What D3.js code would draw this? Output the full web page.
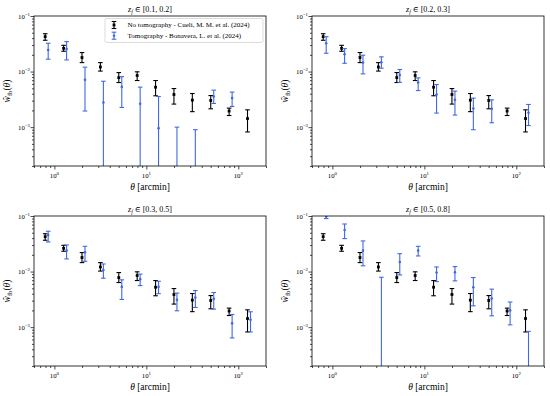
<!DOCTYPE html>
<html>
<head>
<meta charset="utf-8">
<script src="https://cdn.jsdelivr.net/npm/d3@7"></script>
<style>
  html, body { margin: 0; padding: 0; background: #fff; }
  svg { display: block; }
  text { font-family: "Liberation Serif", "DejaVu Serif", serif; fill: #000; }
</style>
</head>
<body>
<div id="chart"></div>
<script>
// ---------------- DATA ----------------
const panelTitles = ["[0.1, 0.2]", "[0.2, 0.3]", "[0.3, 0.5]", "[0.5, 0.8]"];
const legendLabels = ["No tomography - Cueli, M. M. et al. (2024)", "Tomography - Bonavera, L. et al. (2024)"];

const xTickValues = [1, 10, 100];
const xTickExponents = ["0", "1", "2"];
const yTickValues = [1e-3, 1e-2, 1e-1];
const yTickExponents = ["\u22123", "\u22122", "\u22121"];

// No tomography (same in all panels)
const thetaNoTomo = [0.794, 1.259, 1.995, 3.162, 5.012, 7.943, 12.59, 19.95, 31.62, 50.12, 79.43, 125.9];
const wNoTomo   = [0.0425, 0.0262, 0.0179, 0.0121, 0.0078, 0.0085, 0.00523, 0.00387, 0.00306, 0.00302, 0.00195, 0.00143];
const wNoTomoLo = [0.0366, 0.0232, 0.0145, 0.0102, 0.00635, 0.0069, 0.00367, 0.0026, 0.0019, 0.00214, 0.00162, 0.00082];
const wNoTomoHi = [0.048, 0.0297, 0.022, 0.0145, 0.0096, 0.0099, 0.0069, 0.00495, 0.00403, 0.0037, 0.0022, 0.00205];

// Tomography (per panel)
const thetaTomo = [0.856, 1.357, 2.151, 3.409, 5.403, 8.563, 13.57, 21.51, 34.09, 54.03, 85.63, 135.7];

const wTomo1   = [0.0245, 0.0256, 0.0071, 0.00278, 0.0053, 0.00263, 0.00096, -0.0004, -0.0005, 0.00356, 0.00333, null];
const wTomo1Lo = [0.0167, 0.0162, 0.00195, -0.0011, 0.00226, -0.0001, -0.0016, -0.0018, -0.0023, 0.00267, 0.00236, null];
const wTomo1Hi = [0.0323, 0.0346, 0.012, 0.0067, 0.0081, 0.00525, 0.00356, 0.001, 0.0009, 0.00463, 0.00427, null];

const wTomo2   = [0.0323, 0.0205, 0.0145, 0.0147, 0.0087, 0.00636, 0.00387, 0.0031, 0.00217, 0.00214, null, 0.00182];
const wTomo2Lo = [0.0214, 0.0141, 0.0091, 0.0115, 0.0064, 0.00456, 0.00179, 0.00165, 0.0009, 0.0012, null, 0.00107];
const wTomo2Hi = [0.0425, 0.0259, 0.0197, 0.0184, 0.0109, 0.0077, 0.00585, 0.00445, 0.00333, 0.0031, null, 0.00256];

const wTomo3   = [0.0456, 0.0238, 0.0223, 0.0107, 0.0053, 0.0073, 0.0053, 0.0031, 0.00342, 0.00324, 0.00117, 0.00136];
const wTomo3Lo = [0.0341, 0.0169, 0.0153, 0.0076, 0.00315, 0.0056, 0.004, 0.00197, 0.00226, 0.00211, 0.00064, 0.00082];
const wTomo3Hi = [0.0531, 0.0301, 0.0285, 0.0137, 0.0071, 0.009, 0.0067, 0.0041, 0.00456, 0.0042, 0.00169, 0.00189];

const wTomo4   = [0.098, 0.0561, 0.0238, -0.002, 0.0149, 0.0238, 0.0096, 0.0097, 0.0052, 0.00328, 0.002, -0.0005];
const wTomo4Lo = [0.09, 0.0392, 0.0127, -0.012, 0.0087, 0.0191, 0.0066, 0.0068, 0.00242, 0.0016, 0.0011, -0.0018];
const wTomo4Hi = [0.107, 0.0718, 0.0356, 0.0079, 0.021, 0.0285, 0.0121, 0.0123, 0.0078, 0.00483, 0.00283, 0.00084];

const tomoSets = [
  [wTomo1, wTomo1Lo, wTomo1Hi],
  [wTomo2, wTomo2Lo, wTomo2Hi],
  [wTomo3, wTomo3Lo, wTomo3Hi],
  [wTomo4, wTomo4Lo, wTomo4Hi]
];

// ---------------- LAYOUT ----------------
const W = 550, H = 396;
const pw = 232, ph = 150;
const panelPos = [[34, 16], [312, 16], [34, 216], [312, 216]];
const BLUE = "#4169e1";

const svg = d3.select("#chart").append("svg").attr("width", W).attr("height", H);

const x = d3.scaleLog().domain([0.6, 200]).range([0, pw]);
const y = d3.scaleLog().domain([2e-4, 0.1]).range([ph, 0]);

function yPix(v) { return v > 0 ? y(v) : ph + 20; }

const xMinor = [];
[0.1, 1, 10, 100].forEach(d => { for (let k = 2; k <= 9; k++) { const v = d * k; if (v >= 0.6 && v <= 200) xMinor.push(v); } });
const yMinor = [];
[1e-4, 1e-3, 1e-2].forEach(d => { for (let k = 2; k <= 9; k++) { const v = d * k; if (v >= 2e-4 && v <= 0.1) yMinor.push(v); } });

function drawErrorbars(g, xs, w, lo, hi, color, cap, marker) {
  const idx = d3.range(xs.length).filter(i => w[i] !== null);
  const eb = g.append("g").attr("clip-path", g.attr("data-clip"));
  idx.forEach(i => {
    const cx = x(xs[i]);
    const y1 = yPix(hi[i]), y2 = yPix(lo[i]);
    eb.append("line").attr("x1", cx).attr("x2", cx).attr("y1", y1).attr("y2", y2)
      .attr("stroke", color).attr("stroke-width", 1.1);
    [hi[i], lo[i]].forEach(v => {
      if (v > 0) eb.append("line").attr("x1", cx - cap).attr("x2", cx + cap)
        .attr("y1", y(v)).attr("y2", y(v)).attr("stroke", color).attr("stroke-width", 1.1);
    });
    if (w[i] > 0) {
      if (marker === "square") {
        eb.append("rect").attr("x", cx - 1.4).attr("y", y(w[i]) - 1.4).attr("width", 2.8).attr("height", 2.8).attr("fill", color);
      } else {
        eb.append("circle").attr("cx", cx).attr("cy", y(w[i])).attr("r", 1.3).attr("fill", color);
      }
    }
  });
}

panelPos.forEach((pos, p) => {
  const g = svg.append("g").attr("transform", `translate(${pos[0]},${pos[1]})`);
  const clipId = "clip" + p;
  svg.append("defs").append("clipPath").attr("id", clipId)
    .append("rect").attr("x", 0).attr("y", 0).attr("width", pw).attr("height", ph);
  g.attr("data-clip", `url(#${clipId})`);

  // axes ticks
  const gx = g.append("g").attr("transform", `translate(0,${ph})`);
  gx.call(d3.axisBottom(x).tickValues(xTickValues).tickFormat("").tickSize(3.5).tickSizeOuter(0));
  const gxm = g.append("g").attr("transform", `translate(0,${ph})`);
  gxm.call(d3.axisBottom(x).tickValues(xMinor).tickFormat("").tickSize(2).tickSizeOuter(0));
  const gy = g.append("g");
  gy.call(d3.axisLeft(y).tickValues(yTickValues).tickFormat("").tickSize(3.5).tickSizeOuter(0));
  const gym = g.append("g");
  gym.call(d3.axisLeft(y).tickValues(yMinor).tickFormat("").tickSize(2).tickSizeOuter(0));
  g.selectAll(".domain").remove();
  g.selectAll(".tick line").attr("stroke", "#000").attr("stroke-width", 0.7);

  // tick labels
  xTickValues.forEach((v, i) => {
    const t = g.append("text").attr("x", x(v)).attr("y", ph + 11.5).attr("text-anchor", "middle").attr("font-size", 6.8);
    t.append("tspan").text("10");
    t.append("tspan").attr("dy", -2.9).attr("font-size", 4.8).text(xTickExponents[i]);
  });
  yTickValues.forEach((v, i) => {
    const t = g.append("text").attr("x", -4).attr("y", y(v) + 2.5).attr("text-anchor", "end").attr("font-size", 6.8);
    t.append("tspan").text("10");
    t.append("tspan").attr("dy", -2.9).attr("font-size", 4.8).text(yTickExponents[i]);
  });

  // data
  drawErrorbars(g, thetaNoTomo, wNoTomo, wNoTomoLo, wNoTomoHi, "#000", 2.3, "square");
  const ts = tomoSets[p];
  drawErrorbars(g, thetaTomo, ts[0], ts[1], ts[2], BLUE, 2.3, "circle");

  // frame
  g.append("rect").attr("x", 0).attr("y", 0).attr("width", pw).attr("height", ph)
    .attr("fill", "none").attr("stroke", "#000").attr("stroke-width", 0.8);

  // title
  const tt = g.append("text").attr("x", pw / 2).attr("y", -4).attr("text-anchor", "middle").attr("font-size", 8);
  tt.append("tspan").attr("font-style", "italic").text("z");
  tt.append("tspan").attr("dy", 1.8).attr("font-size", 5.6).attr("font-style", "italic").text("f");
  tt.append("tspan").attr("dy", -1.8).text(" \u2208 " + panelTitles[p]);

  // x label
  const xl = g.append("text").attr("x", pw / 2).attr("y", ph + 24).attr("text-anchor", "middle").attr("font-size", 9.5);
  xl.append("tspan").attr("font-style", "italic").text("\u03b8");
  xl.append("tspan").text(" [arcmin]");

  // y label
  const yl = g.append("text").attr("transform", `translate(${-24},${ph / 2}) rotate(-90)`)
    .attr("text-anchor", "middle").attr("font-size", 9.5);
  yl.append("tspan").attr("font-style", "italic").text("\u0175");
  yl.append("tspan").attr("dy", 2).attr("font-size", 6.6).text("fb");
  yl.append("tspan").attr("dy", -2).text("(");
  yl.append("tspan").attr("font-style", "italic").text("\u03b8");
  yl.append("tspan").text(")");

  // legend in first panel
  if (p === 0) {
    const lg = g.append("g").attr("transform", `translate(71,2.5)`);
    lg.append("rect").attr("x", 0).attr("y", 0).attr("width", 158).attr("height", 24).attr("rx", 2)
      .attr("fill", "#fff").attr("fill-opacity", 0.8).attr("stroke", "#cccccc").attr("stroke-width", 0.7);
    const colors = ["#000", BLUE];
    legendLabels.forEach((lab, i) => {
      const cy = 6.5 + i * 10.7;
      const cx = 9;
      lg.append("line").attr("x1", cx).attr("x2", cx).attr("y1", cy - 3.5).attr("y2", cy + 3.5).attr("stroke", colors[i]).attr("stroke-width", 1.1);
      [cy - 3.5, cy + 3.5].forEach(yy => lg.append("line").attr("x1", cx - 2.3).attr("x2", cx + 2.3).attr("y1", yy).attr("y2", yy).attr("stroke", colors[i]).attr("stroke-width", 1.1));
      if (i === 0) lg.append("rect").attr("x", cx - 1.4).attr("y", cy - 1.4).attr("width", 2.8).attr("height", 2.8).attr("fill", colors[i]);
      else lg.append("circle").attr("cx", cx).attr("cy", cy).attr("r", 1.3).attr("fill", colors[i]);
      lg.append("text").attr("x", 22.5).attr("y", cy + 2.4).attr("font-size", 7).text(lab);
    });
  }
});
</script>
</body>
</html>
